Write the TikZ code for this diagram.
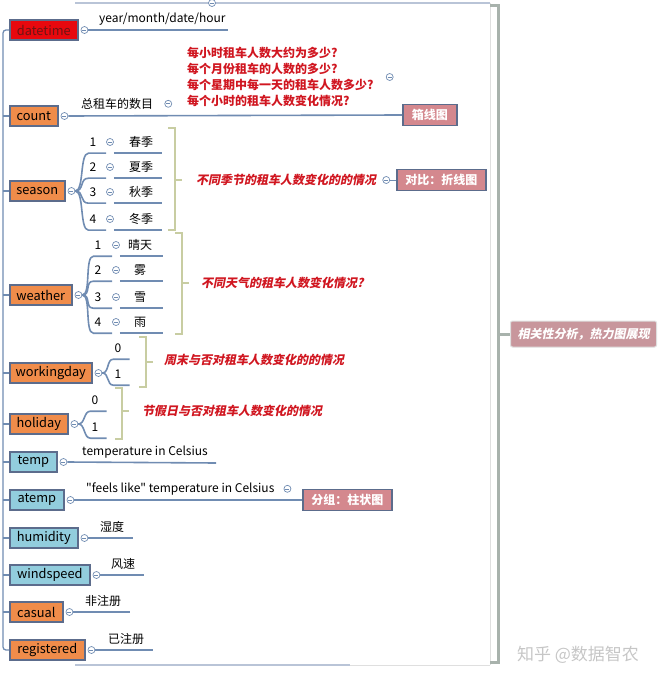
\documentclass[tikz,border=0pt]{standalone}
\usepackage{fontspec}
\setmainfont{Noto Sans CJK SC}[Ligatures=TeXOff]
\newfontfamily\slantfont{Noto Sans CJK SC}[FakeSlant=0.2]
\usepackage{xcolor}
\usepackage{tikz}
\usetikzlibrary{positioning}

\definecolor{linec}{RGB}{112,140,178}
\definecolor{boxline}{RGB}{92,108,140}
\definecolor{orangef}{RGB}{240,140,74}
\definecolor{bluef}{RGB}{146,205,221}
\definecolor{redf}{RGB}{232,8,14}
\definecolor{datetext}{RGB}{110,20,20}
\definecolor{rosef}{RGB}{212,136,142}
\definecolor{bracec}{RGB}{200,205,162}
\definecolor{bigbracec}{RGB}{168,178,172}
\definecolor{qred}{RGB}{208,22,32}
\definecolor{notef}{RGB}{200,150,156}
\definecolor{edgec}{RGB}{185,196,215}

\begin{document}
\begin{tikzpicture}[x=1pt, y=-1pt,
    every node/.style={font=\fontsize{12}{14}\selectfont},
    field/.style={draw=boxline, line width=1.6pt, anchor=west, minimum height=20pt, inner sep=0pt,
      font=\fontsize{12.8}{14}\selectfont},
    knob/.style={circle, draw=linec, fill=white, line width=0.7pt, minimum size=7pt, inner sep=0pt,
      path picture={\draw[linec, line width=0.6pt] ([xshift=-2pt]path picture bounding box.center) -- ([xshift=2pt]path picture bounding box.center);}},
    leaf/.style={inner xsep=1pt, inner ysep=0pt, minimum height=22pt},
    conn/.style={draw=linec, line width=1.6pt},
    tagbox/.style={draw=boxline, fill=rosef, line width=1.6pt, text=white, anchor=west,
      font=\fontsize{12}{14}\selectfont\bfseries, minimum height=21pt, inner sep=0pt},
    question/.style={text=qred, anchor=west, inner sep=1pt, font=\fontsize{12}{14}\selectfont\slantfont\bfseries},
    brace/.style={draw=bracec, line width=2.6pt},
    bigbrace/.style={draw=bigbracec, line width=3pt},
  ]
    \useasboundingbox (0,0) rectangle (666,684);

    % Sheet edges
    \draw[edgec, line width=1.2pt] (75,3) -- (490,3);
    \draw[edgec, line width=1.2pt] (75,665) -- (350,665);
    \draw[gray!25, line width=0.8pt] (350,665) -- (490,665);
    \draw[gray!25, line width=0.8pt] (490,3) -- (490,665);
    \node[knob] (topK) at (212,3) {};

    % Fields
    \node[field, fill=redf, text=datetext, minimum width=68pt] (datetime) at (9,30) {datetime};
    \node[field, fill=orangef, minimum width=48pt] (count) at (9,116) {count};
    \node[field, fill=orangef, minimum width=55pt] (season) at (9,191) {season};
    \node[field, fill=orangef, minimum width=62pt] (weather) at (9,295) {weather};
    \node[field, fill=orangef, minimum width=82pt] (workingday) at (9,373) {workingday};
    \node[field, fill=orangef, minimum width=58pt] (holiday) at (9,424) {holiday};
    \node[field, fill=bluef, minimum width=47pt] (temp) at (9,462) {temp};
    \node[field, fill=bluef, minimum width=54pt] (atemp) at (9,500) {atemp};
    \node[field, fill=bluef, minimum width=68pt] (humidity) at (9,538) {humidity};
    \node[field, fill=bluef, minimum width=80pt] (windspeed) at (9,575) {windspeed};
    \node[field, fill=orangef, minimum width=53pt] (casual) at (9,612) {casual};
    \node[field, fill=orangef, minimum width=75pt] (registered) at (9,650) {registered};

    % Root line on the left
    \coordinate (rootTop) at (3,30);
    \draw[conn, line width=1.3pt, rounded corners=3pt] (datetime.west) -- (datetime.west -| rootTop)
      -- (registered.west -| rootTop) -- (registered.west);
    \foreach \f in {count,season,weather,workingday,holiday,temp,atemp,humidity,windspeed,casual} {
      \draw[conn, line width=1.3pt] (\f.west) -- (\f.west -| rootTop);
    }
    \foreach \f in {datetime,count,season,weather,workingday,holiday,temp,atemp,humidity,windspeed,casual,registered} {
      \node[knob, right=2pt of \f] (\f K) {};
    }

    % datetime
    \node[leaf, anchor=south west] (datetimeD) at (98,30) {year/month/date/hour};
    \draw[conn] (datetimeK.east) -- ([xshift=1pt]datetimeD.south east);

    % count
    \node[leaf, anchor=south west] (countD) at (80,115) {总租车的数目};
    \node[knob, right=10pt of countD] (countDK) {};
    \node[anchor=north west, inner sep=0pt, align=left, text=qred,
      font=\fontsize{12}{16}\selectfont\bfseries] (countQ) at (187,47)
      {每小时租车人数大约为多少?\\每个月份租车的人数的多少?\\每个星期中每一天的租车人数多少?\\每个小时的租车人数变化情况?};
    \node[knob, right=12pt of countQ] (countQK) {};
    \node[tagbox, minimum width=54pt] (boxplot) at (402,115) {箱线图};
    \draw[conn] (countK.east) -- (boxplot.west);

    % season
    \foreach \i/\y/\t in {1/142/春季, 2/167/夏季, 3/192/秋季, 4/219/冬季} {
      \node[leaf] (sn\i) at (93,\y) {\i};
      \node[knob] (sk\i) at (110,\y) {};
      \node[leaf] (st\i) at (141,\y) {\t};
      \draw[conn] (seasonK.east) .. controls +(9,0) and +(-9,0) .. (sn\i.south west) -- (sk\i.west |- sn\i.south);
      \draw[conn] (sk\i.east |- st\i.south) -- ([xshift=8pt]st\i.south east);
    }
    \draw[brace] (168,128) -| (175,230) -- (168,230);
    \draw[brace] (175,180) -- (182,180);
    \node[question] (seasonQ) at (195,180) {不同季节的租车人数变化的的情况};
    \node[knob, right=5pt of seasonQ] (seasonQK) {};
    \node[tagbox, minimum width=89pt] (lineplot) at (396,180) {对比：折线图};
    \draw[linec, line width=0.8pt] (seasonQK) -- (lineplot);

    % weather
    \foreach \i/\y/\t in {1/245/晴天, 2/270/雾, 3/297/雪, 4/322/雨} {
      \node[leaf] (wn\i) at (98,\y) {\i};
      \node[knob] (wk\i) at (116,\y) {};
      \node[leaf] (wt\i) at (140,\y) {\t};
      \draw[conn] (weatherK.east) .. controls +(9,0) and +(-9,0) .. (wn\i.south west) -- (wk\i.west |- wn\i.south);
      \draw[conn] (wk\i.east |- wt\i.south) -- (163,0 |- wt\i.south);
    }
    \draw[brace] (175,233) -| (182,334) -- (175,334);
    \draw[brace] (182,283) -- (189,283);
    \node[question] (weatherQ) at (200,283) {不同天气的租车人数变化情况?};

    % workingday
    \foreach \i/\y in {0/348, 1/374} {
      \node[leaf] (dn\i) at (118,\y) {\i};
      \draw[conn] (workingdayK.east) .. controls +(7,0) and +(-7,0) .. (dn\i.south west) -- ([xshift=7pt]dn\i.south east);
    }
    \draw[brace] (139,337) -| (146,387) -- (139,387);
    \draw[brace] (146,362) -- (153,362);
    \node[question] (workQ) at (163,360) {周末与否对租车人数变化的的情况};

    % holiday
    \foreach \i/\y in {0/400, 1/427} {
      \node[leaf] (hn\i) at (95,\y) {\i};
      \draw[conn] (holidayK.east) .. controls +(7,0) and +(-7,0) .. (hn\i.south west) -- ([xshift=7pt]hn\i.south east);
    }
    \draw[brace] (115,388) -| (122,439) -- (115,439);
    \draw[brace] (122,411) -- (129,411);
    \node[question] (holidayQ) at (141,411) {节假日与否对租车人数变化的情况};

    % temp, atemp
    \node[leaf, anchor=south west] (tempD) at (81,463) {temperature in Celsius};
    \draw[conn] (tempK.east) -- ([xshift=7pt]tempD.south east);
    \node[leaf, anchor=south west] (atempD) at (85,500) {"feels like" temperature in Celsius};
    \node[knob, right=8pt of atempD] (atempDK) {};
    \node[tagbox, minimum width=89pt] (barplot) at (302,500) {分组：柱状图};
    \draw[conn] (atempK.east) -- (barplot.west);

    % the rest
    \node[leaf, anchor=south west] (humidityD) at (99,538) {湿度};
    \draw[conn] (humidityK.east) -- ([xshift=8pt]humidityD.south east);
    \node[leaf, anchor=south west] (windspeedD) at (110,575) {风速};
    \draw[conn] (windspeedK.east) -- ([xshift=8pt]windspeedD.south east);
    \node[leaf, anchor=south west] (casualD) at (84,612) {非注册};
    \draw[conn] (casualK.east) -- ([xshift=8pt]casualD.south east);
    \node[leaf, anchor=south west] (registeredD) at (107,650) {已注册};
    \draw[conn] (registeredK.east) -- ([xshift=8pt]registeredD.south east);

    % Summary bracket
    \draw[bigbrace] (490,6) -| (498,662) -- (490,662);
    \node[anchor=west, fill=notef, draw=gray!25, line width=1pt, rounded corners=2pt, text=white,
      font=\fontsize{12}{14}\selectfont\slantfont\bfseries, minimum width=146pt, minimum height=26pt,
      inner sep=0pt] (analysis) at (510,334) {相关性分析，热力图展现};
    \draw[bigbrace] (498,334) -- (analysis.west);

    % Watermark
    \node[text=gray!45, font=\fontsize{17}{17}\selectfont] (mark) at (578,655) {知乎 @数据智农};
  \end{tikzpicture}
\end{document}
